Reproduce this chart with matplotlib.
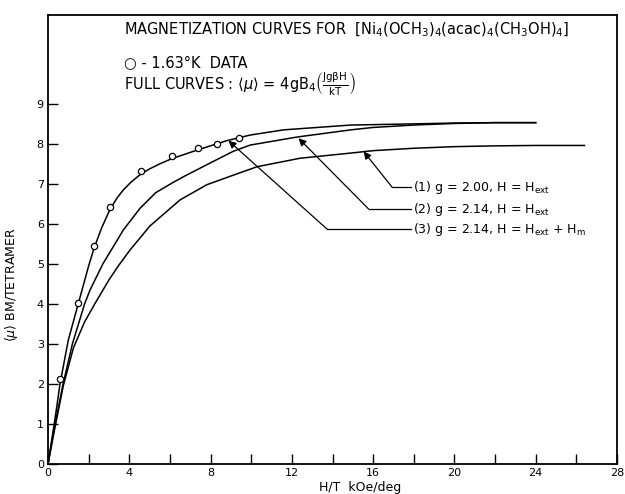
import matplotlib
matplotlib.use('Agg')
import matplotlib.pyplot as plt

plt.rcParams['font.family'] = ['DejaVu Sans']
plt.rcParams['mathtext.default'] = 'regular'

# measured points, 1.63 K
data_x = [0.59, 1.46, 2.27, 3.04, 4.58, 6.09, 7.37, 8.30, 9.42]
data_y = [2.12, 4.02, 5.45, 6.42, 7.33, 7.70, 7.89, 8.00, 8.14]

# curve (3) g=2.14, H=Hext+Hm  (top)
c3_x = [0, 0.20, 0.40, 0.59, 1.00, 1.46, 2.00, 2.27, 2.64, 3.04, 3.40, 3.71,
        4.10, 4.58, 5.02, 5.50, 6.09, 7.37, 8.80, 9.95, 11.6, 14.9, 16.0,
        18.0, 20.0, 22.0, 24.0]
c3_y = [0, 0.65, 1.32, 2.00, 3.10, 3.95, 4.95, 5.40, 5.90, 6.35, 6.65, 6.85,
        7.05, 7.25, 7.38, 7.50, 7.63, 7.85, 8.08, 8.22, 8.35, 8.47, 8.48,
        8.50, 8.52, 8.53, 8.53]

# curve (2) g=2.14, H=Hext  (middle)
c2_x = [0, 0.26, 0.75, 1.20, 1.80, 2.07, 2.70, 3.71, 4.53, 5.30, 6.17, 6.67,
        7.82, 9.10, 9.95, 12.25, 14.9, 16.0, 18.0, 20.0, 22.0, 24.0]
c2_y = [0, 0.77, 2.02, 3.00, 4.00, 4.35, 5.00, 5.85, 6.39, 6.78, 7.04, 7.18,
        7.48, 7.81, 7.97, 8.17, 8.35, 8.41, 8.47, 8.51, 8.53, 8.53]

# curve (1) g=2.00, H=Hext  (bottom)
c1_x = [0, 0.30, 0.75, 1.25, 1.80, 2.30, 3.00, 3.46, 4.04, 5.02, 6.50,
        7.82, 9.46, 10.3, 12.4, 14.9, 16.0, 18.0, 20.0, 22.0, 24.0, 26.4]
c1_y = [0, 0.80, 1.95, 2.90, 3.55, 4.00, 4.60, 4.95, 5.35, 5.95, 6.60,
        6.98, 7.28, 7.43, 7.64, 7.77, 7.83, 7.89, 7.93, 7.95, 7.96, 7.96]

x_major = [0, 4, 8, 12, 16, 20, 24, 28]
x_minor = [2, 6, 10, 14, 18, 22, 26]
y_major = [0, 1, 2, 3, 4, 5, 6, 7, 8, 9]

fig = plt.figure(figsize=(6.25, 4.94), dpi=100)
ax = fig.add_axes([48/625, 30/494, 569/625, 449/494])

ax.plot(c3_x, c3_y, color='k', lw=1.1)
ax.plot(c2_x, c2_y, color='k', lw=1.1)
ax.plot(c1_x, c1_y, color='k', lw=1.1)
ax.plot(data_x, data_y, 'o', mfc='white', mec='k', mew=0.9, ms=4.5)

ax.set_xlim(0, 28)
ax.set_ylim(0, 11.22)
ax.set_xticks(x_major)
ax.set_xticks(x_minor, minor=True)
ax.set_yticks(y_major)
ax.tick_params(which='both', direction='in', length=7, width=1.0,
               labelsize=8, top=False, right=False)
ax.tick_params(axis='x', pad=3)
ax.tick_params(axis='y', pad=3)
for s in ax.spines.values():
    s.set_linewidth(1.3)

ax.set_xlabel('H/T  kOe/deg', fontsize=9)
ax.xaxis.set_label_coords(0.548, -0.038)
ax.set_ylabel(r'$\langle\mathit{\mu}\rangle$ BM/TETRAMER', fontsize=9)
ax.yaxis.set_label_coords(-0.049, 0.40)

# header text
ax.text(3.74, 10.85, r'MAGNETIZATION CURVES FOR  $\left[Ni_4(OCH_3)_4(acac)_4(CH_3OH)_4\right]$',
        fontsize=10.5, va='center', ha='left')
ax.text(3.74, 10.03, '○ - 1.63°K  DATA', fontsize=10.5, va='center', ha='left')
ax.text(3.74, 9.48, r'FULL CURVES : $\langle\mathit{\mu}\rangle$ = 4gB$_4$$\left(\frac{Jg\beta H}{kT}\right)$',
        fontsize=10.5, va='center', ha='left')

# curve labels with leaders
labels = [r'(1) g = 2.00, H = H$_{ext}$',
          r'(2) g = 2.14, H = H$_{ext}$',
          r'(3) g = 2.14, H = H$_{ext}$ + H$_m$']
label_y = [6.92, 6.37, 5.87]
elbow_x = [16.93, 15.78, 13.73]
tips = [(15.53, 7.81), (12.33, 8.14), (8.88, 8.08)]
for lab, ly, ex, tip in zip(labels, label_y, elbow_x, tips):
    ax.plot([ex, 17.85], [ly, ly], color='k', lw=0.9)
    ax.annotate('', xy=tip, xytext=(ex, ly),
                arrowprops=dict(arrowstyle='-|>', color='k', lw=0.9,
                                mutation_scale=11, shrinkA=0, shrinkB=0))
    ax.text(17.95, ly, lab, fontsize=9, va='center', ha='left')

fig.savefig('out.png', dpi=100)
